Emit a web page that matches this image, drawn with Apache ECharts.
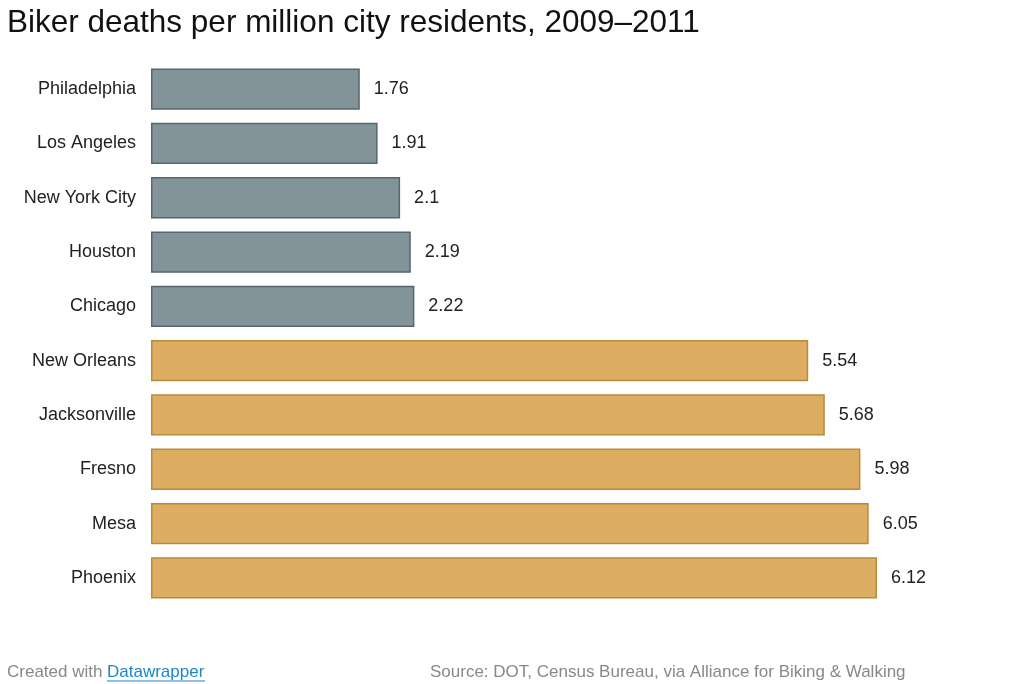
<!DOCTYPE html>
<html lang="en">

<head>
    <meta charset="UTF-8">
    <title>Biker deaths</title>
    <style>
        html, body {
            margin: 0;
            padding: 0;
            background: #fff;
        }

        #chart {
            width: 1021px;
            height: 684px;
        }
    </style>
</head>

<body>
    <div id="chart"></div>
</body>
<script type="text/javascript" src="https://cdn.jsdelivr.net/npm/echarts@6/dist/echarts.min.js"></script>
<script type="text/javascript">
    // data
    var cities = ['Philadelphia', 'Los Angeles', 'New York City', 'Houston', 'Chicago',
        'New Orleans', 'Jacksonville', 'Fresno', 'Mesa', 'Phoenix'];
    var deaths = [1.76, 1.91, 2.1, 2.19, 2.22, 5.54, 5.68, 5.98, 6.05, 6.12];
    // which group each bar belongs to (0 = low, 1 = high)
    var groups = [0, 0, 0, 0, 0, 1, 1, 1, 1, 1];

    var fillColors = ['#82949a', '#ddae61'];
    var strokeColors = ['#56666c', '#b78b3c'];
    var font = '"Liberation Sans", Arial, Helvetica, sans-serif';

    var option = {
        animation: false,
        textStyle: { fontFamily: font },
        title: {
            text: 'Biker deaths per million city residents, 2009\u20132011',
            left: 2,
            top: 2,
            textStyle: {
                fontFamily: font,
                fontSize: 31.5,
                fontWeight: 'normal',
                color: '#111'
            }
        },
        grid: {
            left: 151,
            top: 62,
            width: 726,
            height: 543
        },
        xAxis: {
            type: 'value',
            min: 0,
            max: 6.12,
            show: false
        },
        yAxis: {
            type: 'category',
            data: cities,
            inverse: true,
            axisLine: { show: false },
            axisTick: { show: false },
            axisLabel: {
                margin: 15,
                fontSize: 18,
                color: '#222',
                fontFamily: font
            }
        },
        series: [{
            type: 'bar',
            barCategoryGap: '24%',
            data: deaths.map(function (v, i) {
                return {
                    value: v,
                    itemStyle: {
                        color: fillColors[groups[i]],
                        borderColor: strokeColors[groups[i]],
                        borderWidth: 1.5
                    }
                };
            }),
            label: {
                show: true,
                position: 'right',
                distance: 14,
                fontSize: 18,
                color: '#222',
                fontFamily: font
            }
        }],
        graphic: [
            {
                type: 'text',
                left: 7,
                top: 664,
                style: {
                    text: 'Created with',
                    fontSize: 17,
                    fontFamily: font,
                    fill: '#888'
                }
            },
            {
                type: 'text',
                left: 107,
                top: 664,
                style: {
                    text: 'Datawrapper',
                    fontSize: 17,
                    fontFamily: font,
                    fill: '#1a88cc'
                }
            },
            {
                type: 'line',
                shape: { x1: 107, y1: 681, x2: 205, y2: 681 },
                style: { stroke: '#1a88cc', lineWidth: 1 }
            },
            {
                type: 'text',
                left: 430,
                top: 664,
                style: {
                    text: 'Source: DOT, Census Bureau, via Alliance for Biking & Walking',
                    fontSize: 17,
                    fontFamily: font,
                    fill: '#888'
                }
            }
        ]
    };

    var myChart = echarts.init(document.getElementById('chart'));
    myChart.setOption(option);
    window.onresize = function () {
        myChart.resize();
    };
</script>

</html>
